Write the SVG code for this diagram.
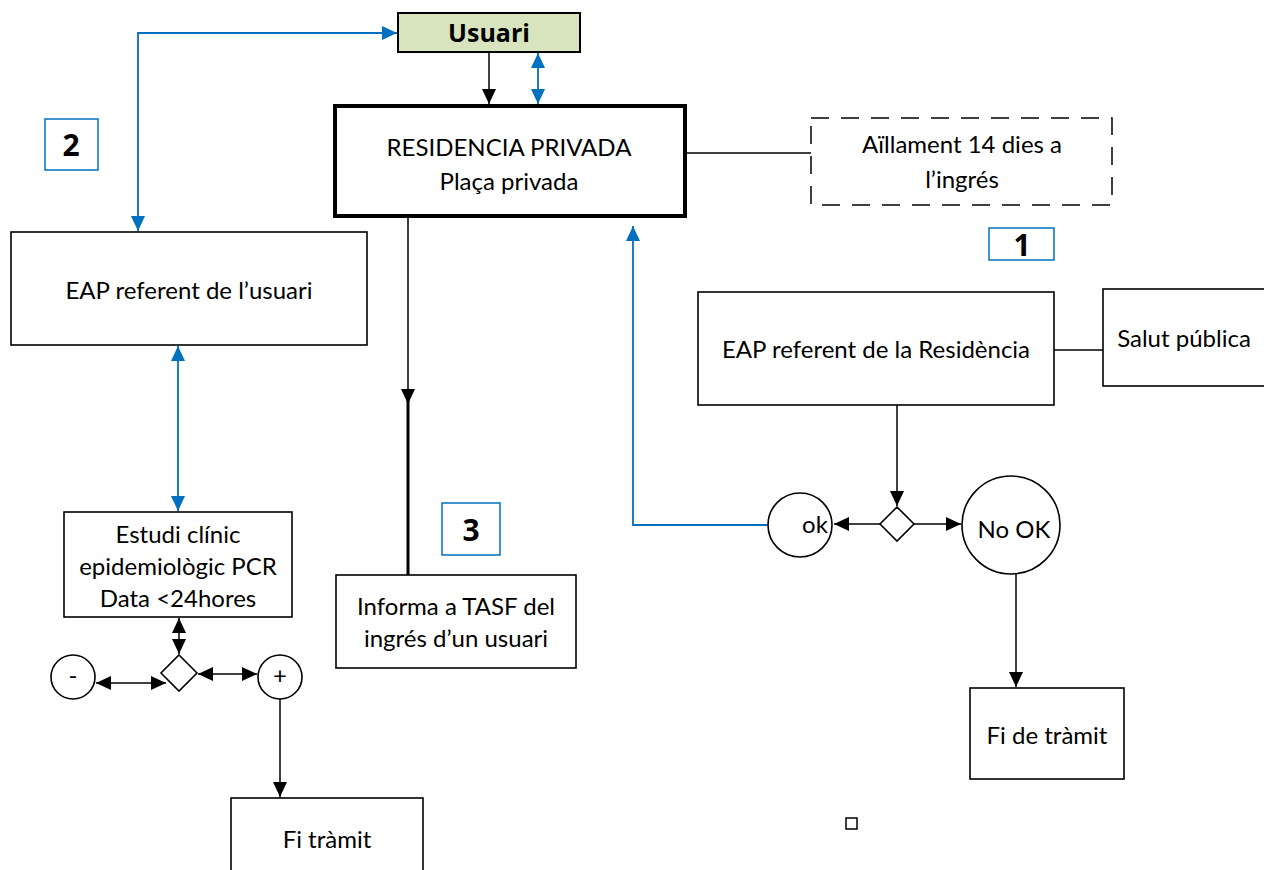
<svg xmlns="http://www.w3.org/2000/svg" width="1264" height="870" viewBox="0 0 1264 870">
<style>
.box{fill:#fff;stroke:#000;stroke-width:1.6}
.t{font-family:Lato,"Open Sans",sans-serif;font-size:24px;fill:#000;text-anchor:middle}
.num{font-family:"Open Sans",Lato,sans-serif;font-weight:bold;font-size:30px;text-anchor:middle}
.nb{fill:#fff;stroke:#0070c0;stroke-width:1.5}
.k{fill:none;stroke:#000;stroke-width:1.5}
.b{fill:none;stroke:#0070c0;stroke-width:1.8}
</style>
<defs>
<marker id="ak" markerUnits="userSpaceOnUse" markerWidth="16" markerHeight="14" refX="15" refY="7" orient="auto-start-reverse"><path d="M0,0 L15,7 L0,14 Z" fill="#000"/></marker>
<marker id="ab" markerUnits="userSpaceOnUse" markerWidth="16" markerHeight="14" refX="15" refY="7" orient="auto-start-reverse"><path d="M0,0 L15,7 L0,14 Z" fill="#0070c0"/></marker>
</defs>
<rect width="1264" height="870" fill="#fff"/>

<g id="connectors">
<path class="k" d="M489,52 V104" marker-end="url(#ak)"/>
<path class="b" d="M538,53 V104" marker-start="url(#ab)" marker-end="url(#ab)"/>
<path class="b" d="M397,33 H138 V231" marker-start="url(#ab)" marker-end="url(#ab)"/>
<path class="k" d="M685,153 H811"/>
<path class="k" d="M408,218 V404" marker-end="url(#ak)"/>
<path d="M408,390 V575" stroke="#000" stroke-width="3"/>
<path class="b" d="M178,346 V511" marker-start="url(#ab)" marker-end="url(#ab)"/>
<path class="k" d="M179,618 V654" marker-start="url(#ak)" marker-end="url(#ak)"/>
<path class="k" d="M96,683 H166" marker-start="url(#ak)" marker-end="url(#ak)"/>
<path class="k" d="M198,674 H257" marker-start="url(#ak)" marker-end="url(#ak)"/>
<path class="k" d="M280,699 V797" marker-end="url(#ak)"/>
<path class="k" d="M1054,350 H1103"/>
<path class="k" d="M897,405 V506" marker-end="url(#ak)"/>
<path class="k" d="M880,524 H834" marker-end="url(#ak)"/>
<path class="k" d="M914,524 H961" marker-end="url(#ak)"/>
<path class="b" d="M768,525 H633 V226" marker-end="url(#ab)"/>
<path class="k" d="M1016,574 V687" marker-end="url(#ak)"/>
</g>

<g id="usuari">
<rect x="398" y="13" width="182" height="39" fill="#d7e4bd" stroke="#000" stroke-width="2"/>
<text x="489" y="42" font-family="'Open Sans',Lato,sans-serif" font-weight="bold" font-size="25" text-anchor="middle">Usuari</text>
</g>

<g id="residencia">
<rect x="335" y="106" width="350" height="110" fill="#fff" stroke="#000" stroke-width="4"/>
<text class="t" x="509" y="156">RESIDENCIA PRIVADA</text>
<text class="t" x="509" y="190">Plaça privada</text>
</g>

<g id="aillament">
<rect x="811" y="118" width="301" height="87" fill="#fff" stroke="#000" stroke-width="1.5" stroke-dasharray="18,12"/>
<text class="t" x="962" y="153">Aïllament 14 dies a</text>
<text class="t" x="962" y="188">l’ingrés</text>
</g>

<g id="num1"><rect class="nb" x="989" y="228" width="65" height="32"/><text class="num" x="1022" y="256">1</text></g>
<g id="num2"><rect class="nb" x="45" y="119" width="53" height="51"/><text class="num" x="71" y="156">2</text></g>
<g id="num3"><rect class="nb" x="442" y="503" width="58" height="52"/><text class="num" x="471" y="541">3</text></g>

<g id="eap-usuari">
<rect class="box" x="11" y="232" width="356" height="113"/>
<text class="t" x="189" y="299">EAP referent de l’usuari</text>
</g>

<g id="estudi">
<rect class="box" x="64" y="512" width="228" height="105"/>
<text class="t" x="178" y="543">Estudi clínic</text>
<text class="t" x="178" y="575">epidemiològic PCR</text>
<text class="t" x="178" y="607">Data &lt;24hores</text>
</g>

<g id="diamond-left"><path class="box" d="M179,655 L197,673 L179,691 L161,673 Z"/></g>
<g id="minus"><circle class="box" cx="73" cy="677" r="22"/><text class="t" x="73" y="684">-</text></g>
<g id="plus"><circle class="box" cx="280" cy="677" r="22"/><text class="t" x="280" y="684">+</text></g>

<g id="fi-tramit">
<rect class="box" x="231" y="798" width="192" height="80"/>
<text class="t" x="327" y="848">Fi tràmit</text>
</g>

<g id="informa">
<rect class="box" x="336" y="575" width="240" height="93"/>
<text class="t" x="456" y="615">Informa a TASF del</text>
<text class="t" x="456" y="647">ingrés d’un usuari</text>
</g>

<g id="eap-residencia">
<rect class="box" x="698" y="292" width="356" height="113"/>
<text class="t" x="876" y="358">EAP referent de la Residència</text>
</g>

<g id="salut">
<rect class="box" x="1103" y="289" width="170" height="97"/>
<text class="t" x="1184" y="347">Salut pública</text>
</g>

<g id="diamond-right"><path class="box" d="M897,507 L914,524 L897,541 L880,524 Z"/></g>
<g id="ok"><circle class="box" cx="800" cy="525" r="32"/><text class="t" x="815" y="533">ok</text></g>
<g id="nook"><circle class="box" cx="1011" cy="525" r="49"/><text class="t" x="1014" y="538">No OK</text></g>

<g id="fi-de-tramit">
<rect class="box" x="970" y="688" width="154" height="91"/>
<text class="t" x="1047" y="744">Fi de tràmit</text>
</g>

<g id="small-square"><rect x="846" y="818" width="11" height="11" fill="#fff" stroke="#000" stroke-width="1.5"/></g>
</svg>
